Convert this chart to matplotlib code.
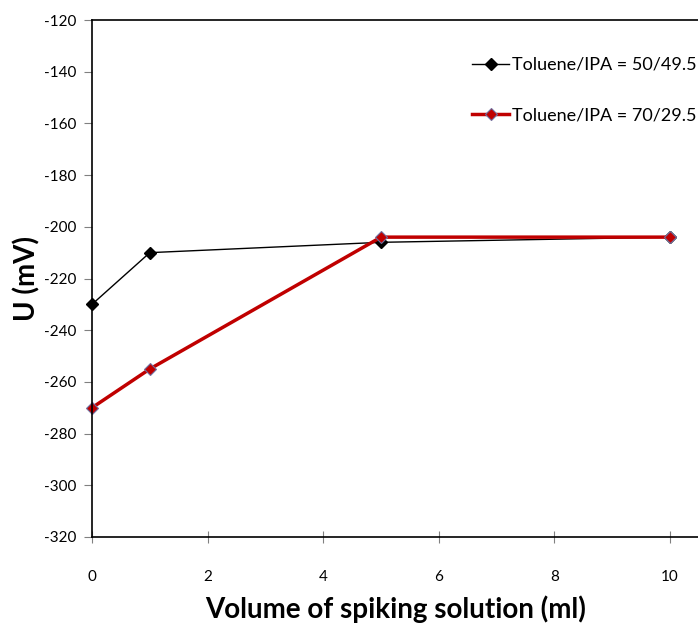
import matplotlib
matplotlib.use("Agg")
import matplotlib.pyplot as plt

plt.rcParams["font.family"] = ["Lato", "DejaVu Sans"]
plt.rcParams["axes.unicode_minus"] = False

volume = [0, 1, 5, 10]
u_50 = [-230, -210, -206, -204]
u_70 = [-270, -255, -204, -204]
yticks = list(range(-320, -119, 20))
xticks = [0, 2, 4, 6, 8, 10]

fig = plt.figure(figsize=(6.98, 6.28), dpi=100)
ax = fig.add_axes([92 / 698, 1 - 537 / 628, 607 / 698, 517 / 628])

ax.plot(
    volume,
    u_50,
    color="black",
    linewidth=1,
    marker="D",
    markersize=6.5,
    markerfacecolor="black",
    markeredgecolor="black",
    label="Toluene/IPA = 50/49.5",
    clip_on=False,
)

ax.plot(
    volume,
    u_70,
    color="#C00000",
    linewidth=2.5,
    marker="D",
    markersize=6.5,
    markerfacecolor="#C00000",
    markeredgecolor="#7070a0",
    markeredgewidth=0.8,
    label="Toluene/IPA = 70/29.5",
    clip_on=False,
)

ax.set_xlim(0, 10.5)
ax.set_ylim(-320, -120)
ax.set_xticks(xticks)
ax.set_yticks(yticks)

for side in ["left", "bottom", "top", "right"]:
    ax.spines[side].set_color("black")
    ax.spines[side].set_linewidth(1.2)

ax.tick_params(axis="y", direction="out", length=6, color="gray", labelsize=11, pad=5)
ax.tick_params(axis="x", direction="inout", length=8, color="gray", labelsize=11, pad=20)

ax.set_xlabel("Volume of spiking solution (ml)", fontsize=20, fontweight="bold", labelpad=8)
ax.set_ylabel("U (mV)", fontsize=20, fontweight="bold")
ax.yaxis.set_label_coords(-0.085, 0.5)

ax.legend(
    loc="upper left",
    bbox_to_anchor=(0.6, 0.96),
    frameon=False,
    fontsize=13,
    handlelength=2.0,
    handletextpad=0.2,
    labelspacing=1.9,
)

fig.savefig("out.png", dpi=100)
